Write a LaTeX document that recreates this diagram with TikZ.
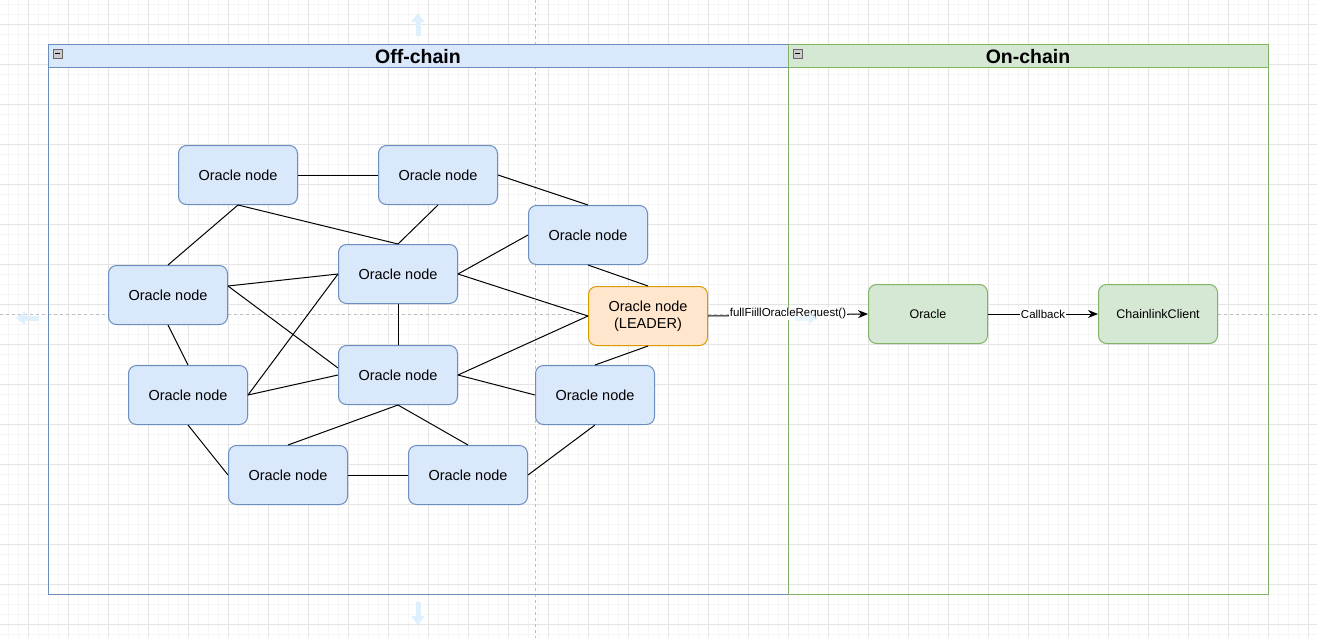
\documentclass[tikz,border=0pt]{standalone}
\usepackage{fontspec}
\setmainfont{Liberation Sans}
\usetikzlibrary{positioning, arrows.meta}
\definecolor{blueFill}{HTML}{DAE8FC}
\definecolor{blueLine}{HTML}{6C8EBF}
\definecolor{orangeFill}{HTML}{FFE6CC}
\definecolor{orangeLine}{HTML}{D79B00}
\definecolor{greenFill}{HTML}{D5E8D4}
\definecolor{greenLine}{HTML}{82B366}
\definecolor{gridMinor}{HTML}{F5F5F5}
\definecolor{gridMajor}{HTML}{E4E4E4}
\definecolor{hoverBlue}{HTML}{DDF0FC}
\tikzset{>=stealth,
  gridminor/.style={draw=gridMinor, line width=0.8pt},
  gridmajor/.style={draw=gridMajor, line width=1pt},
  guide/.style={draw=black!25, line width=0.8pt, dash pattern=on 3pt off 3pt},
  hover/.style={draw=hoverBlue, line width=5pt, -{Triangle[width=13pt,length=9pt]}},
  oracle/.style={draw=blueLine, fill=blueFill, rounded corners=8pt, line width=1pt,
    minimum width=119pt, minimum height=59pt, align=center,
    font=\fontsize{14.5}{17.5}\selectfont},
  leader/.style={oracle, draw=orangeLine, fill=orangeFill},
  chain/.style={oracle, draw=greenLine, fill=greenFill, font=\fontsize{12.5}{15}\selectfont},
  link/.style={draw=black, line width=1pt},
  call/.style={link, -{Stealth[length=10pt,width=8pt]}},
  calllabel/.style={fill=white, inner sep=1pt, font=\fontsize{11.5}{14}\selectfont},
  title/.style={font=\bfseries\fontsize{19.5}{22}\selectfont},
  collapse/.style={draw=black!60, fill=black!20, line width=0.7pt}
}
\begin{document}
\begin{tikzpicture}[x=1pt,y=-1pt]
\useasboundingbox (0,0) rectangle (1317,638);
% editor grid
\foreach \gx in {8,18,...,1317} \draw[gridminor] (\gx,0) -- (\gx,638);
\foreach \gy in {4,14,...,638} \draw[gridminor] (0,\gy) -- (1317,\gy);
\foreach \gx in {28,68,...,1317} \draw[gridmajor] (\gx,0) -- (\gx,638);
\foreach \gy in {24,64,...,638} \draw[gridmajor] (0,\gy) -- (1317,\gy);
% guides and hover arrows
\draw[guide] (0,314) -- (1317,314);
\draw[guide] (535,0) -- (535,638);
\draw[hover] (418,36) -- (418,13);
\draw[hover] (418,602) -- (418,625);
\draw[hover] (39,318) -- (16,318);

% containers
\draw[draw=blueLine, line width=1pt] (48,44) rectangle (788,594);
\draw[draw=blueLine, fill=blueFill, line width=1pt] (48,44) rectangle (788,67);
\draw[draw=greenLine, line width=1pt] (788,44) rectangle (1268,594);
\draw[draw=greenLine, fill=greenFill, line width=1pt] (788,44) rectangle (1268,67);
\node[title] (offTitle) at (418,56.5) {Off-chain};
\node[title] (onTitle) at (1028,56.5) {On-chain};
\draw[collapse] (53,49) rectangle (62,58);
\draw[line width=0.8pt] (55,53.5) -- (60,53.5);
\draw[collapse] (793,49) rectangle (802,58);
\draw[line width=0.8pt] (795,53.5) -- (800,53.5);

% oracle nodes
\node[oracle] (nA) at (238,175) {Oracle node};
\node[oracle] (nB) at (438,175) {Oracle node};
\node[oracle] (nC) at (588,235) {Oracle node};
\node[oracle] (nD) at (168,295) {Oracle node};
\node[oracle] (nE) at (398,274) {Oracle node};
\node[oracle] (nF) at (188,395) {Oracle node};
\node[oracle] (nG) at (398,375) {Oracle node};
\node[oracle] (nH) at (595,395) {Oracle node};
\node[oracle] (nI) at (288,475) {Oracle node};
\node[oracle] (nJ) at (468,475) {Oracle node};
\node[leader] (lead) at (648,316) {Oracle node\\(LEADER)};
\node[chain] (oracle) at (928,314) {Oracle};
\node[chain, right=110pt of oracle] (client) {ChainlinkClient};

% peer links
\draw[link] (nA.east) -- (nB.west);
\draw[link] (nB.east) -- (nC.north);
\draw[link] (nA.south) -- (nD.north);
\draw[link] (nA.south) -- (nE.north);
\draw[link] (nB.south) -- (nE.north);
\draw[link] (nE.east) -- (nC.west);
\draw[link] (nE.east) -- (lead.west);
\draw[link] (nC.south) -- (lead.north);
\draw[link] ([yshift=9pt]nD.east) -- (nE.west);
\draw[link] ([yshift=9pt]nD.east) -- ([yshift=7pt]nG.west);
\draw[link] (nE.west) -- (nF.east);
\draw[link] (nD.south) -- (nF.north);
\draw[link] (nE.south) -- (nG.north);
\draw[link] (nF.east) -- (nG.west);
\draw[link] (nG.east) -- (lead.west);
\draw[link] (nG.east) -- (nH.west);
\draw[link] (lead.south) -- (nH.north);
\draw[link] (nG.south) -- (nI.north);
\draw[link] (nG.south) -- (nJ.north);
\draw[link] (nF.south) -- (nI.west);
\draw[link] (nI.east) -- (nJ.west);
\draw[link] (nJ.east) -- (nH.south);

% calls
\draw[call] (lead.east) -- node[calllabel, yshift=1pt] {fullFiillOracleRequest()} (oracle.west);
\draw[call] (oracle.east) -- node[calllabel] {Callback} (client.west);
\draw[hover, opacity=0.6] (795,318) -- (818,318);
\end{tikzpicture}
\end{document}
